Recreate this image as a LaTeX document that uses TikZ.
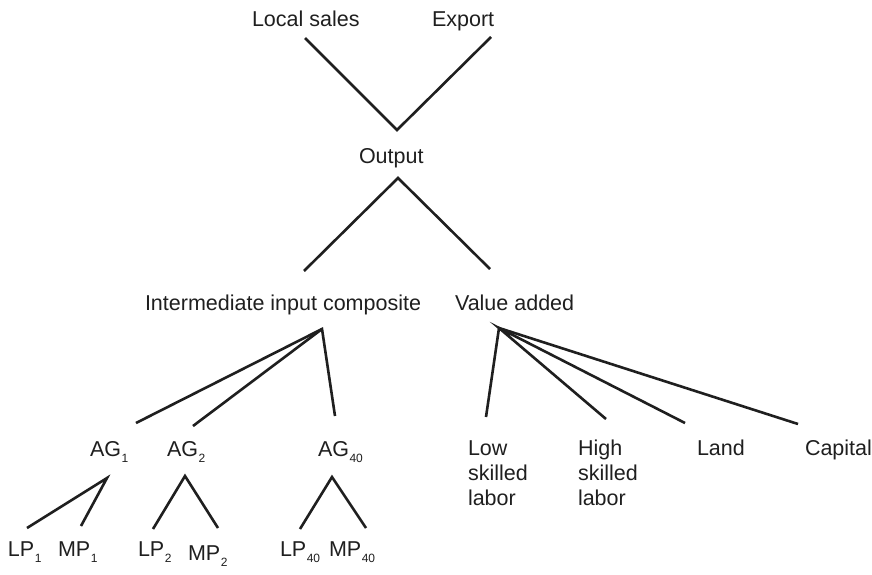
\documentclass[tikz,border=0pt]{standalone}
\usepackage{fontspec}
\setmainfont{Liberation Sans}
\newcommand{\mysub}[1]{\kern0.5pt\raisebox{-6.5pt}{\fontsize{12}{12}\selectfont #1}}
\begin{document}
\begin{tikzpicture}[x=1pt,y=-1pt,
  lbl/.style={anchor=base west,inner sep=0pt,outer sep=0pt,text=black!88,font=\fontsize{21.5}{24.5}\selectfont},
  br/.style={line width=2.6pt,draw=black!88}]
\useasboundingbox[fill=white] (0,0) rectangle (872,575);
% labels
\node[lbl] (local) at (252,26.5) {Local sales};
\node[lbl] (export) at (432,26.5) {Export};
\node[lbl] (output) at (359,163) {Output};
\node[lbl] (iic) at (145,310) {Intermediate input composite};
\node[lbl] (va) at (455,310) {Value added};
\node[lbl] (ag1) at (90,456) {AG\mysub{1}};
\node[lbl] (ag2) at (167,456) {AG\mysub{2}};
\node[lbl] (ag40) at (318,456) {AG\mysub{40}};
\node[lbl] (lp1) at (8,556) {LP\mysub{1}};
\node[lbl] (mp1) at (58,556) {MP\mysub{1}};
\node[lbl] (lp2) at (138,556) {LP\mysub{2}};
\node[lbl] (mp2) at (188,560) {MP\mysub{2}};
\node[lbl] (lp40) at (280,556) {LP\mysub{40}};
\node[lbl] (mp40) at (329,556) {MP\mysub{40}};
\node[lbl] (low) at (468,455) {Low};
\node[lbl] (lowb) at (468,480) {skilled};
\node[lbl] (lowc) at (468,505) {labor};
\node[lbl] (high) at (578,455) {High};
\node[lbl] (highb) at (578,480) {skilled};
\node[lbl] (highc) at (578,505) {labor};
\node[lbl] (land) at (697,455) {Land};
\node[lbl] (capital) at (805,455) {Capital};
% branch points
\coordinate (lsE) at (305,38);
\coordinate (exE) at (491,37);
\coordinate (outV) at (397,130);
\coordinate (outA) at (398,178);
\coordinate (iicE) at (304,271);
\coordinate (vaE) at (490,269);
\coordinate (iicA) at (322,329);
\coordinate (ag1E) at (136,423);
\coordinate (ag2E) at (193,426);
\coordinate (ag40E) at (335,416);
\coordinate (vaA) at (499,328);
\coordinate (lowE) at (486,417);
\coordinate (highE) at (606,419);
\coordinate (landE) at (685,423);
\coordinate (capE) at (798,424);
\coordinate (ag1A) at (107,478);
\coordinate (lp1E) at (27,528);
\coordinate (mp1E) at (81,526);
\coordinate (ag2A) at (185,476);
\coordinate (lp2E) at (153,529);
\coordinate (mp2E) at (218,528);
\coordinate (ag40A) at (332,477);
\coordinate (lp40E) at (300,529);
\coordinate (mp40E) at (366,528);
% branches
\draw[br] (lsE) -- (outV) -- (exE);
\draw[br] (iicE) -- (outA) -- (vaE);
\draw[br] (ag1E) -- (iicA) -- (ag40E);
\draw[br] (ag2E) -- (iicA);
\draw[br] (lowE) -- (vaA) -- (capE);
\draw[br] (highE) -- (vaA) -- (landE);
\draw[br] (lp1E) -- (ag1A) -- (mp1E);
\draw[br] (lp2E) -- (ag2A) -- (mp2E);
\draw[br] (lp40E) -- (ag40A) -- (mp40E);
\end{tikzpicture}
\end{document}
